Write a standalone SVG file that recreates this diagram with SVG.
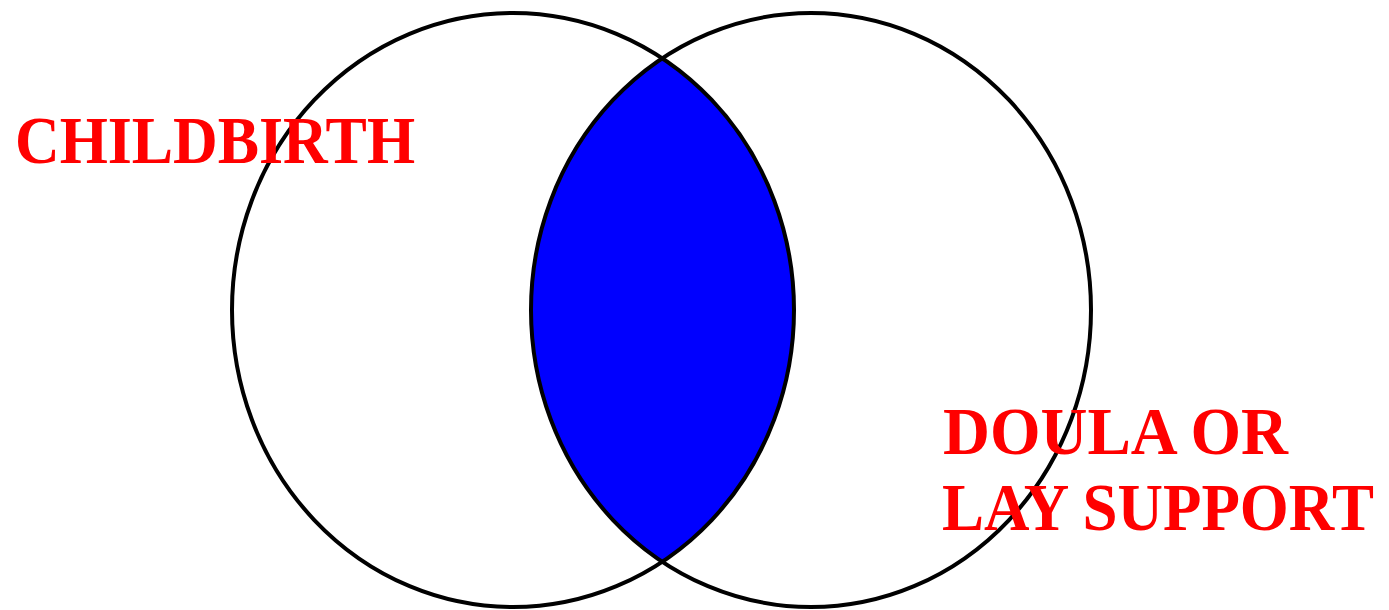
<svg xmlns="http://www.w3.org/2000/svg" width="1389" height="610" viewBox="0 0 1389 610">
<style>
.ring{fill:none;stroke:#000;stroke-width:4}
.lbl{font-family:"Liberation Serif","Times New Roman",serif;font-weight:bold;font-size:68px;fill:#ff0000}
</style>
<defs>
<clipPath id="leftClip"><ellipse cx="513" cy="310" rx="281" ry="297"/></clipPath>
</defs>
<rect width="1389" height="610" fill="#fff"/>
<g id="overlap">
<ellipse cx="811" cy="310" rx="280" ry="297" fill="#0000ff" clip-path="url(#leftClip)"/>
</g>
<g id="childbirth">
<ellipse class="ring" cx="513" cy="310" rx="281" ry="297"/>
<text class="lbl" x="15" y="163" textLength="400" lengthAdjust="spacingAndGlyphs">CHILDBIRTH</text>
</g>
<g id="doula">
<ellipse class="ring" cx="811" cy="310" rx="280" ry="297"/>
<text class="lbl" x="943" y="454" textLength="345" lengthAdjust="spacingAndGlyphs">DOULA OR</text>
<text class="lbl" x="942" y="530" textLength="432" lengthAdjust="spacingAndGlyphs">LAY SUPPORT</text>
</g>
<g id="connectors"></g>
</svg>
